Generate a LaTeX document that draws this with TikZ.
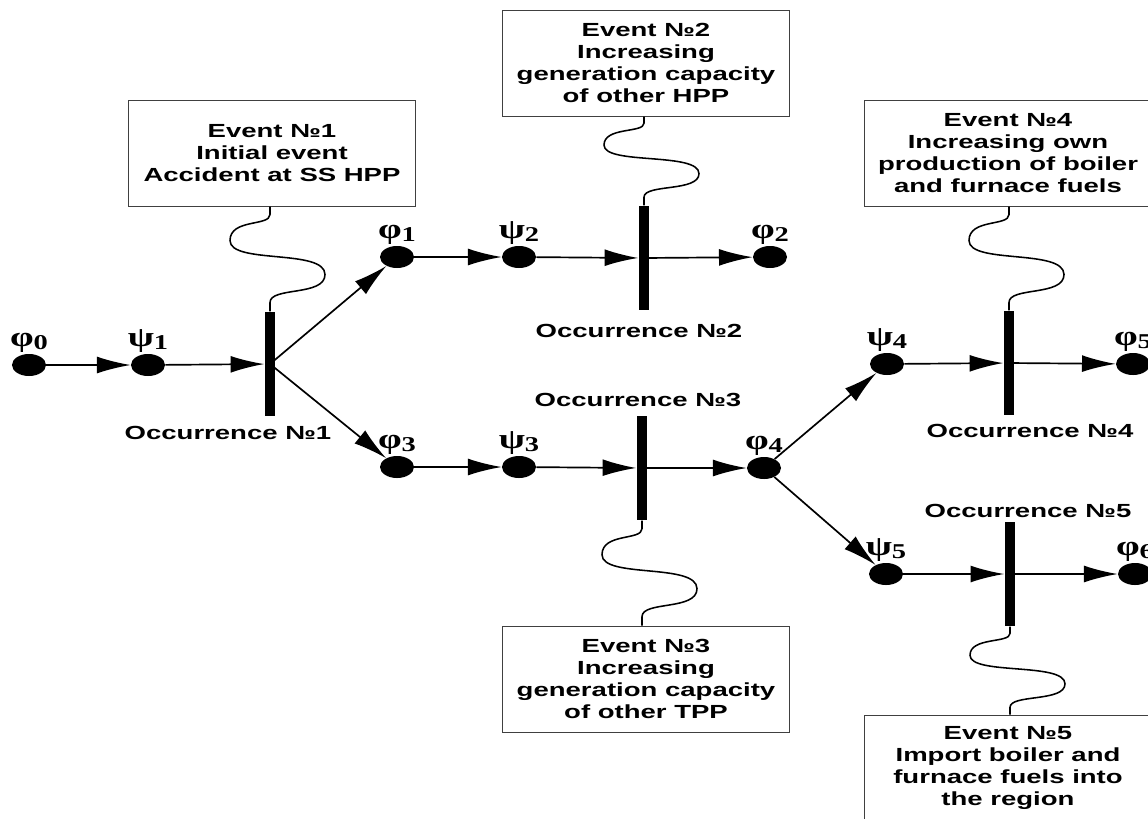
\documentclass[tikz,border=0pt]{standalone}
\usepackage{fontspec}
\setmainfont{Liberation Sans}[FakeStretch=1.45]
\newfontfamily\grk{Liberation Serif}[FakeStretch=1.35]
\usetikzlibrary{shapes.geometric,arrows.meta}

% greek state label with index
\newcommand{\gl}[2]{{\grk\bfseries #1\raisebox{-0.3ex}{\fontsize{15}{15}\selectfont #2}}}
% wavy wire from an event box to its bar
\newcommand{\wave}[3]{\draw[wire] (#1) -- ++(0,8*#3) .. controls +(0,12*#3) and +(0,-22*#3) .. ++(-40,26*#3) .. controls +(0,24*#3) and +(0,-26*#3) .. ++(95,34*#3) .. controls +(0,22*#3) and +(0,-16*#3) .. ++(-55,28*#3) -- (#2);}

\begin{document}
\begin{tikzpicture}[x=0.025cm,y=-0.025cm,
  state/.style={ellipse,fill=black,minimum width=0.85cm,minimum height=0.55cm,inner sep=0pt},
  lbl/.style={inner sep=1pt,font=\fontsize{20}{20}\selectfont},
  bar/.style={rectangle,fill=black,minimum width=0.27cm,minimum height=2.62cm,inner sep=0pt},
  event/.style={draw=black!75,line width=0.7pt,minimum width=7.15cm,minimum height=2.65cm,align=center,inner sep=2pt,font=\fontsize{13.5}{15.6}\selectfont\bfseries},
  occ/.style={font=\fontsize{13.5}{15.6}\selectfont\bfseries},
  arr/.style={line width=1.2pt,-{Latex[length=24pt,width=12pt]}},
  wire/.style={line width=1.1pt}]
\useasboundingbox (0,0) rectangle (1148,818);

\foreach \n/\x/\y/\g/\i in {phi0/29/365/φ/0, psi1/148/365/ψ/1, phi1/397/257/φ/1,
  psi2/519/257/ψ/2, phi2/770/257/φ/2, phi3/397/467/φ/3, psi3/519/467/ψ/3,
  phi4/764/468/φ/4, psi4/887/364/ψ/4, phi5/1133/364/φ/5, psi5/886/574/ψ/5,
  phi6/1135/574/φ/6} % states
  \node[state,label={[lbl]above:\gl{\g}{\i}}] (\n) at (\x,\y) {};

\foreach \n/\x/\y in {b1/270/364, b2/644/258, b3/642/468, b4/1009/363, b5/1010/574} % occurrence bars
  \node[bar] (\n) at (\x,\y) {};

\node[event] (e1) at (272,153) {Event №1\\Initial event\\Accident at SS HPP};
\node[event] (e2) at (646,63) {Event №2\\Increasing\\generation capacity\\of other HPP};
\node[event] (e3) at (646,679) {Event №3\\Increasing\\generation capacity\\of other TPP};
\node[event] (e4) at (1008,153) {Event №4\\Increasing own\\production of boiler\\and furnace fuels};
\node[event] (e5) at (1008,768) {Event №5\\Import boiler and\\furnace fuels into\\the region};

\node[occ] (o1) at (228,433) {Occurrence №1};
\node[occ] (o2) at (639,331) {Occurrence №2};
\node[occ] (o3) at (638,400) {Occurrence №3};
\node[occ] (o4) at (1030,431) {Occurrence №4};
\node[occ] (o5) at (1028,511) {Occurrence №5};

\draw[arr] (phi0) -- (psi1);
\draw[arr] (psi1) -- (b1);
\draw[arr] (b1.center) -- (phi1);
\draw[arr] (b1.center) -- (phi3);
\draw[arr] (phi1) -- (psi2);
\draw[arr] (psi2) -- (b2);
\draw[arr] (b2.center) -- (phi2);
\draw[arr] (phi3) -- (psi3);
\draw[arr] (psi3) -- (b3);
\draw[arr] (b3.center) -- (phi4);
\draw[arr] (phi4) -- (psi4);
\draw[arr] (phi4) -- (psi5);
\draw[arr] (psi4) -- (b4);
\draw[arr] (b4.center) -- (phi5);
\draw[arr] (psi5) -- (b5);
\draw[arr] (b5.center) -- (phi6);

\wave{e1.south -| b1.north}{b1.north}{1}
\wave{e2.south -| b2.north}{b2.north}{0.84}
\wave{b3.south}{e3.north -| b3.south}{1}
\wave{e4.south -| b4.north}{b4.north}{1}
\wave{b5.south}{e5.north -| b5.south}{0.84}
\end{tikzpicture}
\end{document}
